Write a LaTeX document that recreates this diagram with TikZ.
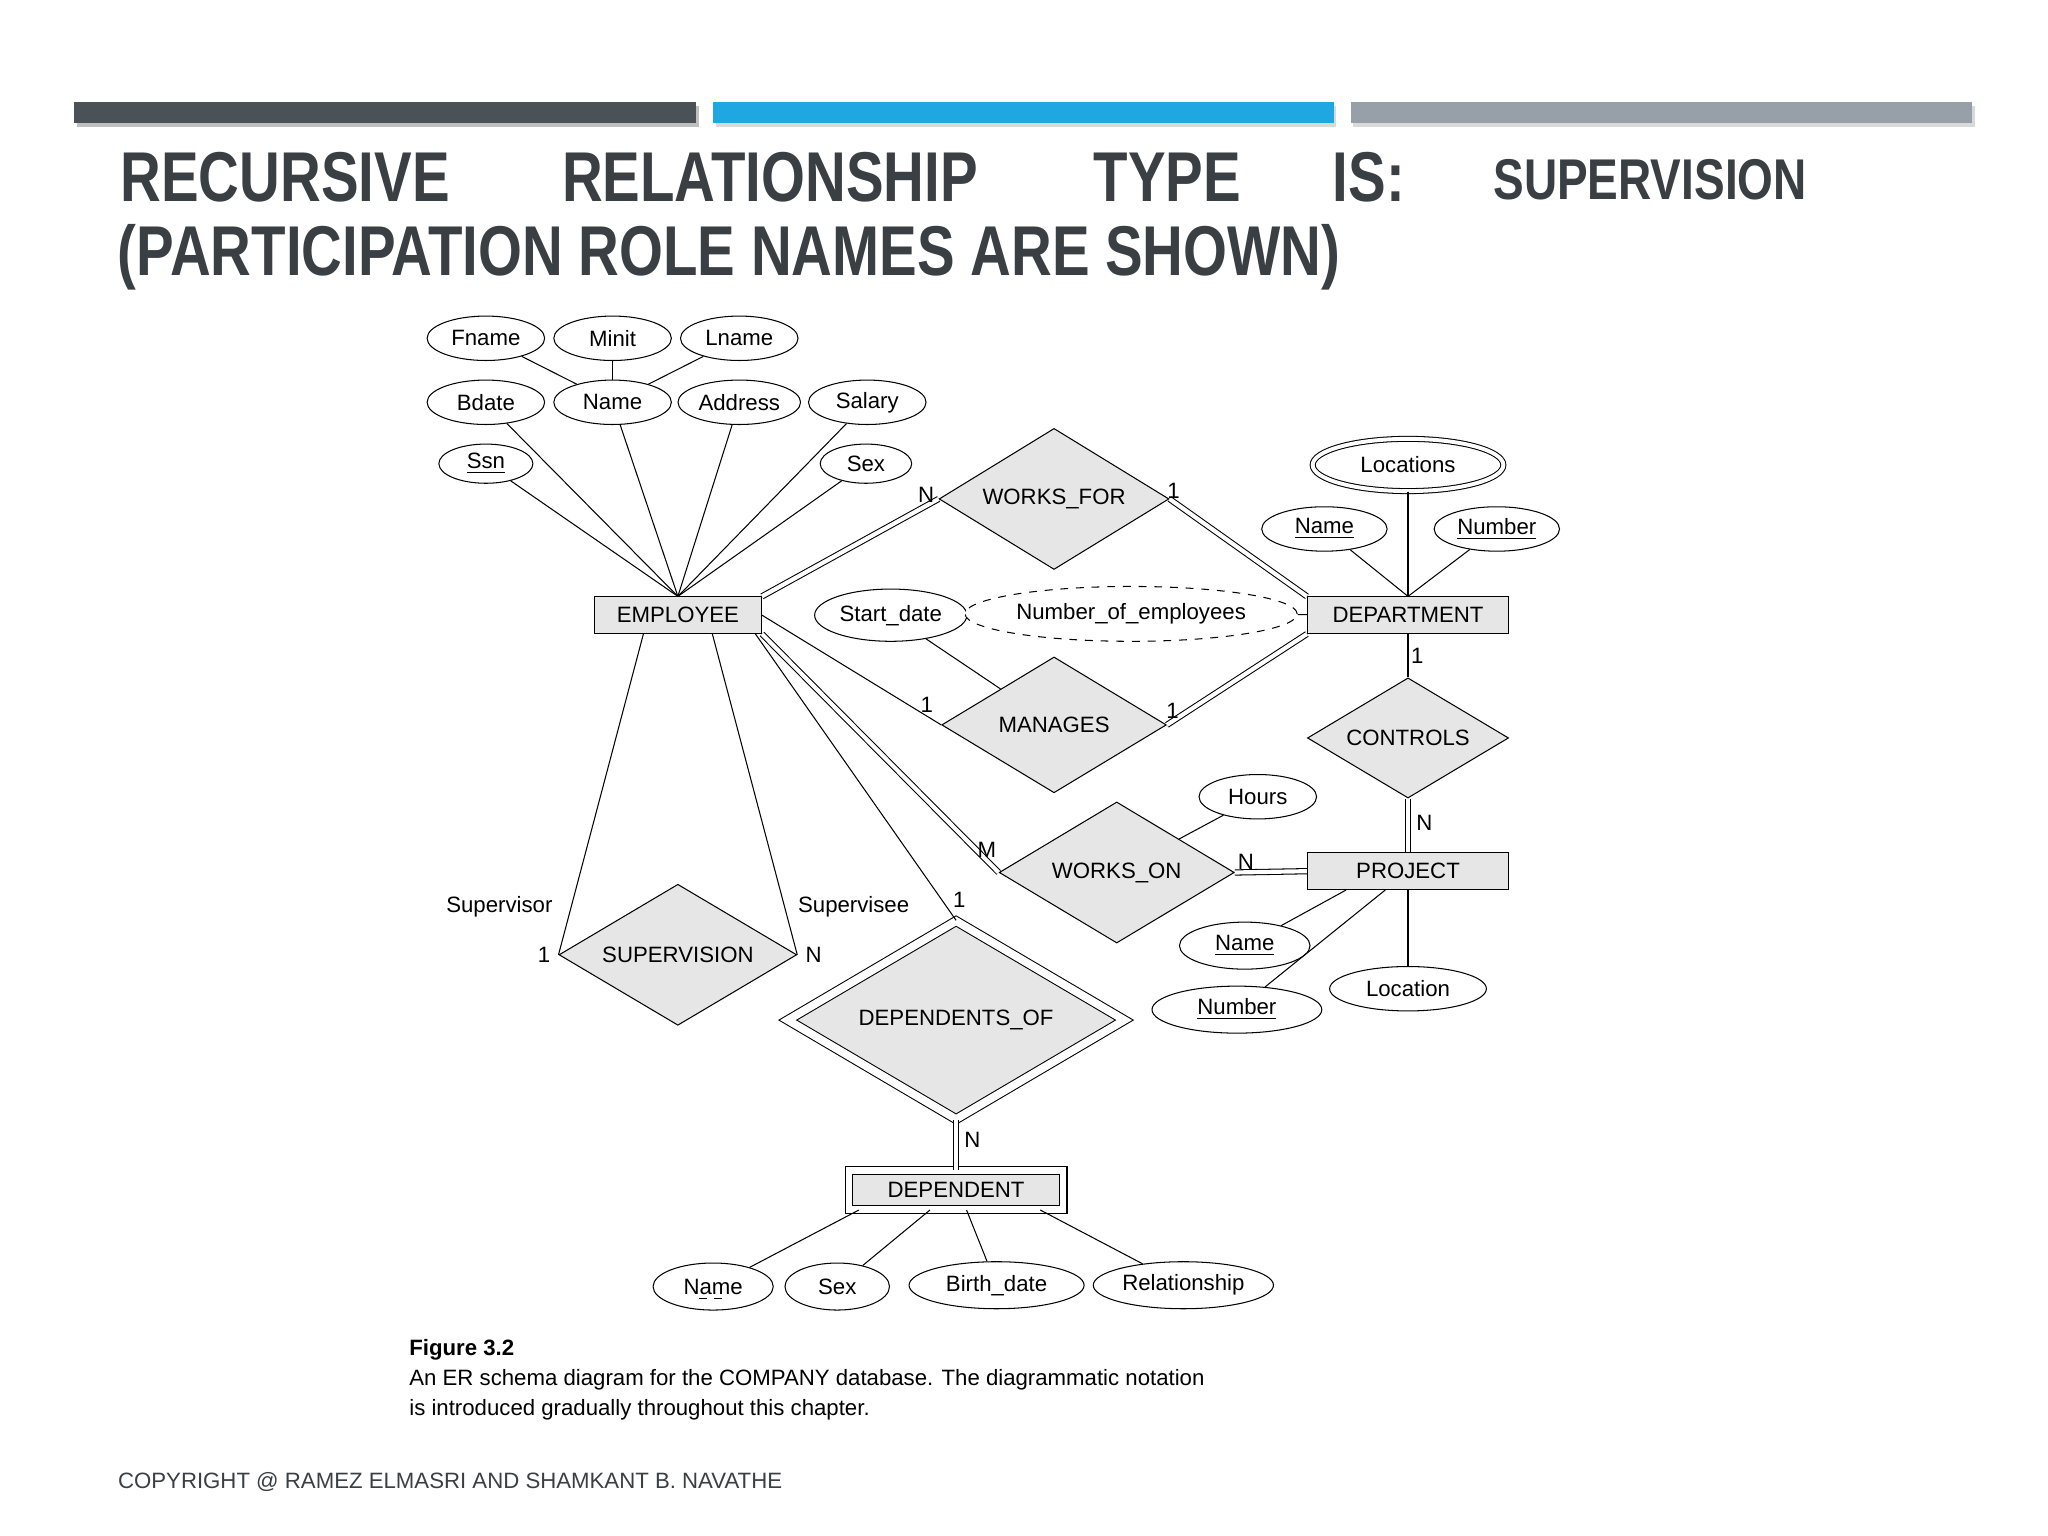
\documentclass[tikz,border=0pt]{standalone}
\usepackage{fontspec}
\setmainfont{Liberation Sans}
\usetikzlibrary{shapes.geometric,calc,positioning}
\definecolor{bardark}{HTML}{4A5258}
\definecolor{barblue}{HTML}{1EA7E1}
\definecolor{bargray}{HTML}{979FA8}
\definecolor{titlegray}{HTML}{3A3F44}
\definecolor{boxfill}{HTML}{E6E6E6}
\begin{document}
\begin{tikzpicture}[
  x=0.5pt, y=-0.5pt,
  every node/.style = {font=\fontsize{8.5}{10}\selectfont},
  ent/.style = {draw,fill=boxfill,rectangle,minimum height=14pt,inner sep=1pt},
  attr/.style = {draw,ellipse,fill=white,minimum height=17pt,inner sep=1pt},
  rel/.style = {draw,fill=boxfill,diamond,aspect=1.6,inner sep=0pt},
  dbl/.style = {double,double distance=1.6pt},
  lbl/.style = {inner sep=1pt},
  titlew/.style = {anchor=base west,inner sep=0pt,text=titlegray,xscale=0.8,
    font=\fontsize{27}{30}\bfseries\selectfont}
  ]
  \useasboundingbox (0,0) rectangle (1568,1176);
  % header bars
  \fill[black!25] (59,81) rectangle (535,97);
  \fill[bardark] (57,78) rectangle (533,94);
  \fill[black!15] (548,81) rectangle (1023,97);
  \fill[barblue] (546,78) rectangle (1021,94);
  \fill[black!15] (1036,81) rectangle (1512,97);
  \fill[bargray] (1034,78) rectangle (1510,94);
  % title
  \node[titlew] (t1) at (92,154) {RECURSIVE};
  \node[titlew] (t2) at (430,154) {RELATIONSHIP};
  \node[titlew] (t3) at (837,154) {TYPE};
  \node[titlew] (t4) at (1020,154) {IS:};
  \node[titlew,font=\fontsize{22}{26}\bfseries\selectfont] (t5) at (1143,153) {SUPERVISION};
  \node[titlew] (t6) at (90,211) {(PARTICIPATION ROLE NAMES ARE SHOWN)};

  % entities
  \node[ent,minimum width=64pt] (emp) at (519,471) {EMPLOYEE};
  \node[ent,minimum width=77pt] (dept) at (1078,471) {DEPARTMENT};
  \node[ent,minimum width=77pt] (proj) at (1078,667) {PROJECT};
  \node[ent,minimum width=82pt,minimum height=15pt,double,double distance=2.5pt] (dep) at (732,911) {DEPENDENT};

  % relationships
  \node[rel,minimum width=88pt,minimum height=54pt] (wf) at (807,382) {WORKS\_FOR};
  \node[rel,minimum width=86pt,minimum height=52pt] (man) at (807,555) {MANAGES};
  \node[rel,minimum width=77pt,minimum height=46pt] (ctl) at (1078,565) {CONTROLS};
  \node[rel,minimum width=90pt,minimum height=54pt] (won) at (855,668) {WORKS\_ON};
  \node[rel,minimum width=91pt,minimum height=54pt] (sup) at (519,731) {SUPERVISION};
  \node[rel,minimum width=129pt,minimum height=76pt,double,double distance=3pt] (dof) at (732,781) {DEPENDENTS\_OF};

  % employee attributes
  \node[attr,minimum width=45pt] (fname) at (372,259) {Fname};
  \node[attr,minimum width=45pt] (minit) at (469,259) {Minit};
  \node[attr,minimum width=45pt] (lname) at (566,259) {Lname};
  \node[attr,minimum width=45pt] (bdate) at (372,308) {Bdate};
  \node[attr,minimum width=45pt] (ename) at (469,308) {Name};
  \node[attr,minimum width=46pt] (addr) at (566,308) {Address};
  \node[attr,minimum width=45pt] (salary) at (664,308) {Salary};
  \node[attr,minimum width=36pt,minimum height=15pt] (ssn) at (372,355) {\underline{Ssn}};
  \node[attr,minimum width=35pt,minimum height=15pt] (esex) at (663,355) {Sex};

  % department attributes
  \node[attr,minimum width=73pt,minimum height=20pt,double,double distance=1.5pt] (locs) at (1078,356) {Locations};
  \node[attr,minimum width=48pt] (dname) at (1014,405) {\underline{Name}};
  \node[attr,minimum width=48pt] (dnum) at (1146,405) {\underline{Number}};
  \node[attr,minimum width=49pt,minimum height=20pt] (sdate) at (682,471) {Start\_date};
  \node[attr,minimum width=104pt,minimum height=21pt,dashed] (noe) at (866,470) {Number\_of\_employees};

  % project attributes
  \node[attr,minimum width=45pt] (hours) at (963,610) {Hours};
  \node[attr,minimum width=50pt,minimum height=18pt] (pname) at (953,724) {\underline{Name}};
  \node[attr,minimum width=65pt,minimum height=18pt] (pnum) at (947,773) {\underline{Number}};
  \node[attr,minimum width=60pt] (ploc) at (1078,757) {Location};

  % dependent attributes
  \node[attr,minimum width=46pt,minimum height=18pt] (depname) at (546,985) {Name};
  \draw[dashed] ($(depname.center)+(-11,9)$) -- ($(depname.center)+(11,9)$);
  \node[attr,minimum width=40pt,minimum height=18pt] (depsex) at (641,985) {Sex};
  \node[attr,minimum width=67pt,minimum height=18pt] (bdt) at (763,984) {Birth\_date};
  \node[attr,minimum width=68pt,minimum height=18pt] (rship) at (906,984) {Relationship};

  % attribute links
  \draw (fname) -- (ename);
  \draw (minit) -- (ename);
  \draw (lname) -- (ename);
  \foreach \a in {bdate,ename,addr,salary,ssn,esex}
    \draw (\a) -- ($(emp.north)+(0,0)$);
  \foreach \a in {locs,dname,dnum}
    \draw (\a) -- (dept.north);
  \draw (noe) -- (dept);
  \draw (sdate) -- (man);
  \draw (hours) -- (won);
  \draw (pname) -- ($(proj.south west)+(30,0)$);
  \draw (pnum) -- ($(proj.south west)+(60,0)$);
  \draw (ploc) -- (proj);
  \draw (depname) -- ($(dep.south west)+(8,0)$);
  \draw (depsex) -- ($(dep.south)+(-20,0)$);
  \draw (bdt) -- ($(dep.south)+(8,0)$);
  \draw (rship) -- ($(dep.south east)+(-18,0)$);

  % relationship links
  \draw[dbl] (emp.north east) -- (wf.west) node[lbl,pos=0.93,above] {N};
  \draw[dbl] (wf.east) -- (dept.north west) node[lbl,pos=0.03,above] {1};
  \draw (emp.east) -- (man.west) node[lbl,pos=0.92,above] {1};
  \draw[dbl] (man.east) -- (dept.south west) node[lbl,pos=0.04,above] {1};
  \draw (dept.south) -- (ctl.north) node[lbl,pos=0.5,right] {1};
  \draw[dbl] (ctl.south) -- (proj.north) node[lbl,pos=0.45,right=2pt] {N};
  \draw[dbl] (emp.south east) -- (won.west) node[lbl,pos=0.95,above] {M};
  \draw[dbl] (won.east) -- (proj.west) node[lbl,pos=0.0,above right] {N};
  \draw ($(emp.south west)+(38,0)$) -- (sup.west) node[lbl,pos=0.85,left=6pt] {Supervisor}
    node[lbl,pos=1,left=2pt] {1};
  \draw ($(emp.south east)+(-38,0)$) -- (sup.east) node[lbl,pos=0.85,right=4pt] {Supervisee}
    node[lbl,pos=1,right=2pt] {N};
  \draw ($(emp.south east)+(-5,0)$) -- (dof.north) node[lbl,pos=0.93,right=3pt] {1};
  \draw[dbl] (dof.south) -- (dep.north) node[lbl,pos=0.4,right=2pt] {N};

  % caption
  \node[anchor=base west,inner sep=0pt,font=\fontsize{8.5}{10}\bfseries\selectfont] (fig) at (313,1038) {Figure 3.2};
  \node[anchor=base west,inner sep=0pt] (cap1) at (313,1061) {An ER schema diagram for the COMPANY database. The diagrammatic notation};
  \node[anchor=base west,inner sep=0pt] (cap2) at (313,1084) {is introduced gradually throughout this chapter.};
  \node[anchor=base west,inner sep=0pt,text=titlegray,font=\fontsize{8.5}{10}\selectfont] (copy) at (90,1140) {COPYRIGHT @ RAMEZ ELMASRI AND SHAMKANT B. NAVATHE};
\end{tikzpicture}
\end{document}
